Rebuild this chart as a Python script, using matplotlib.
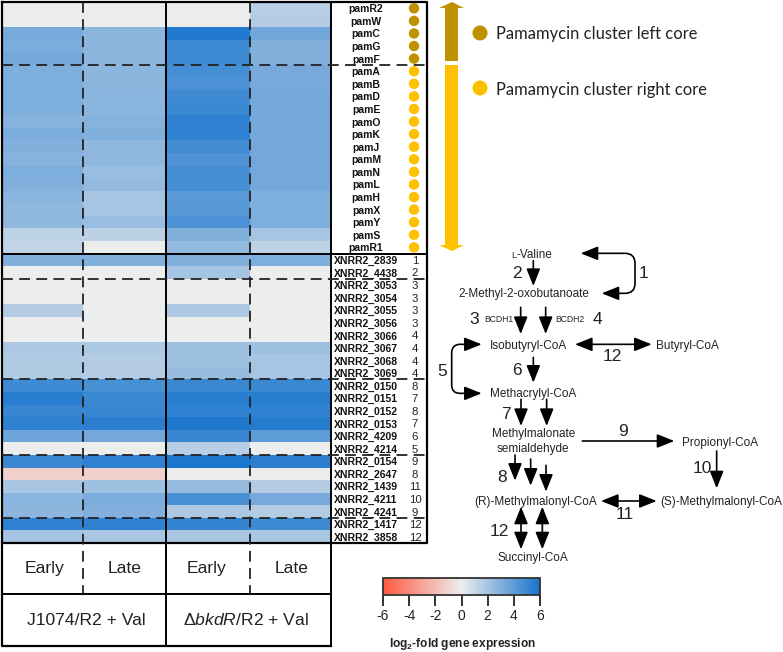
import matplotlib
matplotlib.use("Agg")
import matplotlib.pyplot as plt
from matplotlib.colors import LinearSegmentedColormap
from matplotlib.path import Path
from matplotlib.patches import PathPatch, Polygon, Circle
import numpy as np

plt.rcParams["font.family"] = ["Liberation Sans", "DejaVu Sans"]
plt.rcParams["mathtext.fontset"] = "custom"
plt.rcParams["mathtext.rm"] = "Liberation Sans"
plt.rcParams["mathtext.it"] = "Liberation Sans:italic"
plt.rcParams["mathtext.bf"] = "Liberation Sans:bold"
plt.rcParams["axes.unicode_minus"] = False

# gene rows, top to bottom
pam_genes = ["pamR2", "pamW", "pamC", "pamG", "pamF", "pamA", "pamB", "pamD", "pamE", "pamO",
             "pamK", "pamJ", "pamM", "pamN", "pamL", "pamH", "pamX", "pamY", "pamS", "pamR1"]
xnrr_genes = ["XNRR2_2839", "XNRR2_4438", "XNRR2_3053", "XNRR2_3054", "XNRR2_3055", "XNRR2_3056",
              "XNRR2_3066", "XNRR2_3067", "XNRR2_3068", "XNRR2_3069", "XNRR2_0150", "XNRR2_0151",
              "XNRR2_0152", "XNRR2_0153", "XNRR2_4209", "XNRR2_4214", "XNRR2_0154", "XNRR2_2647",
              "XNRR2_1439", "XNRR2_4211", "XNRR2_4241", "XNRR2_1417", "XNRR2_3858"]
xnrr_steps = ["1", "2", "3", "3", "3", "3", "4", "4", "4", "4", "8", "7", "8", "7", "6", "5",
              "9", "8", "11", "10", "9", "12", "12"]

# log2 fold change per condition
wt_early = [0, 0, 3.3, 3.2, 3.4, 3.1, 3.1, 3.1, 3.1, 2.9, 3.2, 3.0, 2.9, 3.1, 3.0, 2.8, 2.6, 2.6, 1.3, 1.2,
            3.0, 0, 0, 0, 1.6, 0, 0, 1.8, 1.7, 1.7, 4.9, 5.5, 5.1, 5.3, 3.6, 0, 5.0, -1.2, 1.9, 2.8, 2.7, 5.3, 2.0]
wt_late = [0, 0, 2.7, 2.7, 2.7, 2.7, 2.7, 2.8, 2.8, 2.9, 3.0, 2.6, 2.6, 2.3, 2.5, 2.0, 2.0, 2.3, 1.4, 0,
           3.0, 0, 0, 0, 0, 0, 0, 1.8, 1.6, 1.6, 4.6, 5.0, 5.1, 5.4, 3.4, 0, 5.3, -1.2, 2.2, 3.2, 3.0, 5.3, 1.9]
ko_early = [0, 0, 5.7, 4.9, 4.9, 4.7, 4.5, 4.9, 5.0, 5.3, 5.3, 4.8, 4.4, 4.7, 4.7, 4.1, 4.2, 4.5, 3.0, 2.5,
            3.0, 2.0, 0, 0, 1.8, 0, 0, 2.2, 2.2, 2.4, 5.0, 5.5, 5.3, 5.8, 5.1, 1.5, 5.9, 0, 2.4, 4.6, 1.8, 5.2, 1.9]
ko_late = [1.5, 1.6, 3.5, 3.0, 3.0, 3.3, 3.3, 3.4, 3.4, 3.4, 3.4, 3.4, 3.4, 3.4, 3.4, 3.1, 3.1, 3.1, 2.0, 1.3,
           3.1, 0, 0, 0, 0, 0, 0, 2.2, 2.0, 2.0, 5.0, 5.5, 5.3, 5.6, 4.0, 0, 5.4, 0, 1.6, 3.3, 1.6, 4.9, 1.9]

cbar_ticks = [-6, -4, -2, 0, 2, 4, 6]
left_core_count = 5

col_edges = [2, 83, 166, 250, 331]
top, bottom = 2, 543
brown = "#BF9000"
gold = "#FFC000"

fig = plt.figure(figsize=(7.83, 6.52), dpi=100)
ax = fig.add_axes([0, 0, 1, 1])
ax.set_xlim(0, 783)
ax.set_ylim(652, 0)
ax.axis("off")

cmap = LinearSegmentedColormap.from_list("expr", ["#FF5A41", "#EDEDED", "#1874CD"])
values = np.array([wt_early, wt_late, ko_early, ko_late]).T
n_rows = values.shape[0]
row_edges = np.linspace(top, bottom, n_rows + 1)
row_mid = (row_edges[:-1] + row_edges[1:]) / 2
mesh = ax.pcolormesh(col_edges, row_edges, values, cmap=cmap, vmin=-6, vmax=6, zorder=1)

# gene labels
for i, name in enumerate(pam_genes):
    ax.text(366, row_mid[i], name, fontsize=7.5, fontweight="bold", ha="center", va="center_baseline", color="#111111")
    ax.add_patch(Circle((414, row_mid[i]), 5.2, color=brown if i < left_core_count else gold, lw=0, zorder=2))
for i, name in enumerate(xnrr_genes):
    y = row_mid[i + len(pam_genes)]
    ax.text(334, y, name, fontsize=7.5, fontweight="bold", ha="left", va="center_baseline", color="#111111")
    ax.text(415, y, xnrr_steps[i], fontsize=8.2, ha="center", va="center_baseline", color="#222222")

# grid of the table
ax.plot([2, 427, 427, 2, 2], [top, top, bottom, bottom, top], color="black", lw=1.6, zorder=3)
ax.plot([2, 427], [row_edges[20]] * 2, color="black", lw=1.4, zorder=3)
for x in [166, 331]:
    ax.plot([x, x], [top, 646], color="black", lw=1.4, zorder=3)
ax.plot([2, 2, 331], [543, 646, 646], color="black", lw=1.6, zorder=3)
ax.plot([2, 331], [594, 594], color="black", lw=1.4, zorder=3)
for r in [5, 22, 30, 36, 41]:
    ax.plot([2, 425], [row_edges[r]] * 2, color="#222222", lw=1.3, dashes=(6, 3.5), zorder=3)
for x in [83, 250]:
    ax.plot([x, x], [top, 593], color="#222222", lw=1.3, dashes=(6, 3.5), zorder=3)

# condition labels
for x, s in zip([45, 125, 206, 292], ["Early", "Late", "Early", "Late"]):
    ax.text(x, 573, s, fontsize=12.6, ha="center", va="baseline", color="#222222")
ax.text(86, 625, "J1074/R2 + Val", fontsize=12.6, ha="center", va="baseline", color="#222222")
ax.text(246, 625, r"$\Delta\mathit{bkdR}$/R2 + Val", fontsize=12.6, ha="center", va="baseline", color="#222222")

# pamamycin cluster arrow and legend
ax.add_patch(Polygon([(452, 2), (464, 8), (458, 8), (458, 61), (445, 61), (445, 8), (439, 8)], color=brown, lw=0))
ax.add_patch(Polygon([(445, 65), (458, 65), (458, 245), (464, 245), (452, 251), (439, 245), (445, 245)], color=gold, lw=0))
ax.add_patch(Circle((480, 33), 7.5, color=brown, lw=0))
ax.add_patch(Circle((480, 88), 7.5, color=gold, lw=0))
ax.text(496, 33, "Pamamycin cluster left core", family="Lato", fontsize=11.9, va="center_baseline", color="#222222")
ax.text(496, 88, "Pamamycin cluster right core", family="Lato", fontsize=11.9, va="center_baseline", color="#222222")


# pathway, coordinates taken in a 3x crop with origin (430, 230)
def px(zx, zy):
    return 430 + zx / 3, 230 + zy / 3


def arrow(x0, y0, x1, y1, style="-|>"):
    ax.annotate("", xy=px(x1, y1), xytext=px(x0, y0),
                arrowprops=dict(arrowstyle=style + ",head_length=0.75,head_width=0.3", color="black", lw=1.2,
                                shrinkA=0, shrinkB=0, mutation_scale=14))


def label(zx, zy, s, size=8.5):
    x, y = px(zx, zy)
    ax.text(x, y, s, fontsize=size, ha="center", va="center_baseline", color="#222222")


label(312, 72, "-Valine")
label(250, 74, "L", 6.5)
label(283, 186, "2-Methyl-2-oxobutanoate")
label(296, 344, "Isobutyryl-CoA")
label(771, 344, "Butyryl-CoA")
label(309, 489, "Methacrylyl-CoA")
label(310, 608, "Methylmalonate")
label(310, 652, "semialdehyde")
label(870, 635, "Propionyl-CoA")
label(318, 813, "(R)-Methylmalonyl-CoA")
label(873, 813, "(S)-Methylmalonyl-CoA")
label(309, 978, "Succinyl-CoA")
label(207, 267, "BCDH1", 6.2)
label(420, 267, "BCDH2", 6.2)

for zx, zy, s in [(260, 127, "2"), (641, 127, "1"), (133, 265, "3"), (502, 265, "4"), (548, 375, "12"),
                  (38, 421, "5"), (260, 418, "6"), (229, 549, "7"), (578, 600, "9"), (816, 710, "10"),
                  (215, 737, "8"), (585, 850, "11"), (208, 900, "12")]:
    label(zx, zy, s, 12.5)

arrow(310, 92, 310, 168)
arrow(272, 232, 272, 312)
arrow(347, 232, 347, 312)
arrow(310, 382, 310, 458)
arrow(273, 508, 273, 588)
arrow(350, 508, 350, 588)
arrow(457, 633, 733, 633)
arrow(255, 675, 255, 752)
arrow(302, 687, 302, 767)
arrow(348, 706, 348, 785)
arrow(860, 663, 860, 775)
arrow(435, 343, 665, 343, "<|-|>")
arrow(513, 813, 680, 813, "<|-|>")
arrow(273, 830, 273, 958, "<|-|>")
arrow(337, 830, 337, 958, "<|-|>")

# curved links 1 and 5
for pts, ends in [
    ([(490, 70), (585, 70), (615, 70), (615, 100), (615, 160), (615, 190), (585, 190), (550, 190)],
     [(490, 70, 452, 70), (550, 190, 515, 190)]),
    ([(120, 343), (90, 343), (65, 343), (65, 370), (65, 465), (65, 490), (90, 490), (120, 490)],
     [(120, 343, 155, 343), (120, 490, 155, 490)]),
]:
    codes = [Path.MOVETO, Path.LINETO, Path.CURVE3, Path.CURVE3, Path.LINETO, Path.CURVE3, Path.CURVE3, Path.LINETO]
    ax.add_patch(PathPatch(Path([px(*p) for p in pts], codes), fill=False, color="black", lw=1.2))
    for e in ends:
        arrow(*e)

# colour scale
cax = fig.add_axes([383 / 783, 1 - 595 / 652, (540 - 383) / 783, 17 / 652])
cbar = fig.colorbar(mesh, cax=cax, orientation="horizontal", ticks=cbar_ticks)
cbar.ax.tick_params(length=8, width=1.3, labelsize=10, colors="#222222", pad=2)
cbar.outline.set_linewidth(1.3)
cbar.outline.set_edgecolor("#333333")
ax.text(462, 644, r"log$_{\mathbf{2}}$-fold gene expression", fontsize=8.6, fontweight="bold",
        ha="center", va="center", color="#222222")

fig.savefig("out.png", dpi=100)
plt.close(fig)
